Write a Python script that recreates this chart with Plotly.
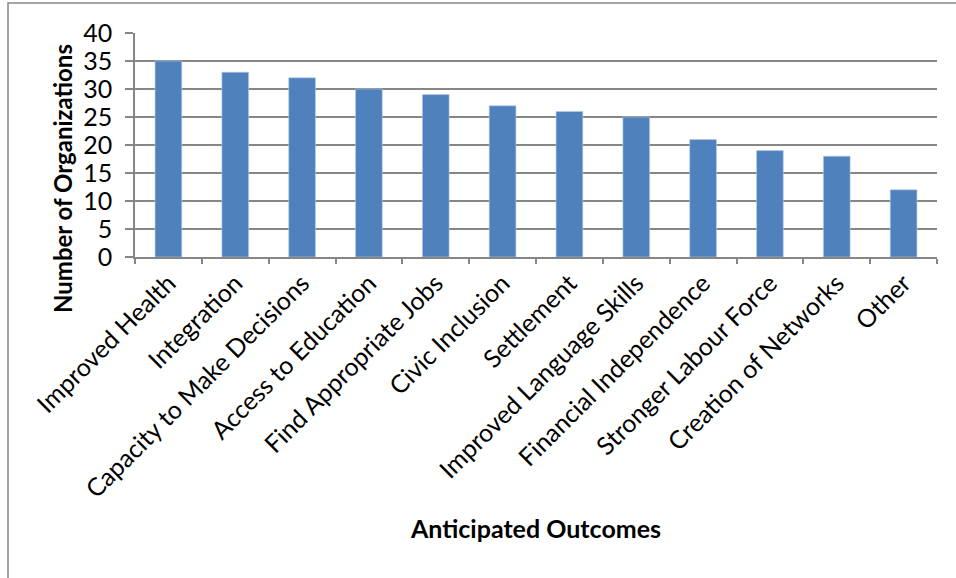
import plotly.graph_objects as go

categories = ["Improved Health", "Integration", "Capacity to Make Decisions",
              "Access to Education", "Find Appropriate Jobs", "Civic Inclusion",
              "Settlement", "Improved Language Skills", "Financial Independence",
              "Stronger Labour Force", "Creation of Networks", "Other"]
values = [35, 33, 32, 30, 29, 27, 26, 25, 21, 19, 18, 12]
y_ticks = [0, 5, 10, 15, 20, 25, 30, 35, 40]

FONT = "Lato"
fig = go.Figure(go.Bar(x=categories, y=values, marker=dict(color="#4F81BD",
                line=dict(color="#B9CDE5", width=0.6))))

fig.update_layout(
    width=956, height=578,
    margin=dict(l=135, r=19, t=33, b=321),
    paper_bgcolor="white", plot_bgcolor="white",
    bargap=0.6, showlegend=False,
    font=dict(family=FONT, color="black"),
)
fig.update_xaxes(
    tickangle=-45, tickfont=dict(size=25, family=FONT),
    showline=True, linecolor="#868686", linewidth=1.5,
    ticks="outside", ticklen=5, tickcolor="#868686", tickwidth=1.5,
    tickson="boundaries", showgrid=False,
    title=dict(text="<b>Anticipated Outcomes</b>", font=dict(size=25, family=FONT), standoff=18),
)
fig.update_yaxes(
    range=[0, 40], tickvals=y_ticks, tickfont=dict(size=25, family=FONT),
    showline=True, linecolor="#868686", linewidth=1.5,
    ticks="outside", ticklen=8, tickcolor="#868686", tickwidth=1.5,
    ticklabelstandoff=8,
    showgrid=True, gridcolor="#868686", gridwidth=1.5, zeroline=False,
)
fig.add_annotation(text="<b>Number of Organizations</b>", textangle=-90,
                   xref="paper", yref="paper", x=(62 - 135) / 802, y=(257 - 179) / 224,
                   xanchor="center", yanchor="middle", showarrow=False,
                   font=dict(size=24, family=FONT, color="black"))
fig.add_shape(type="rect", xref="paper", yref="paper",
              x0=(8 - 135) / 802, x1=1.2, y0=-2.0, y1=(257 - 3) / 224,
              line=dict(color="#868686", width=1.5), layer="below")
fig.write_html("out.html")
